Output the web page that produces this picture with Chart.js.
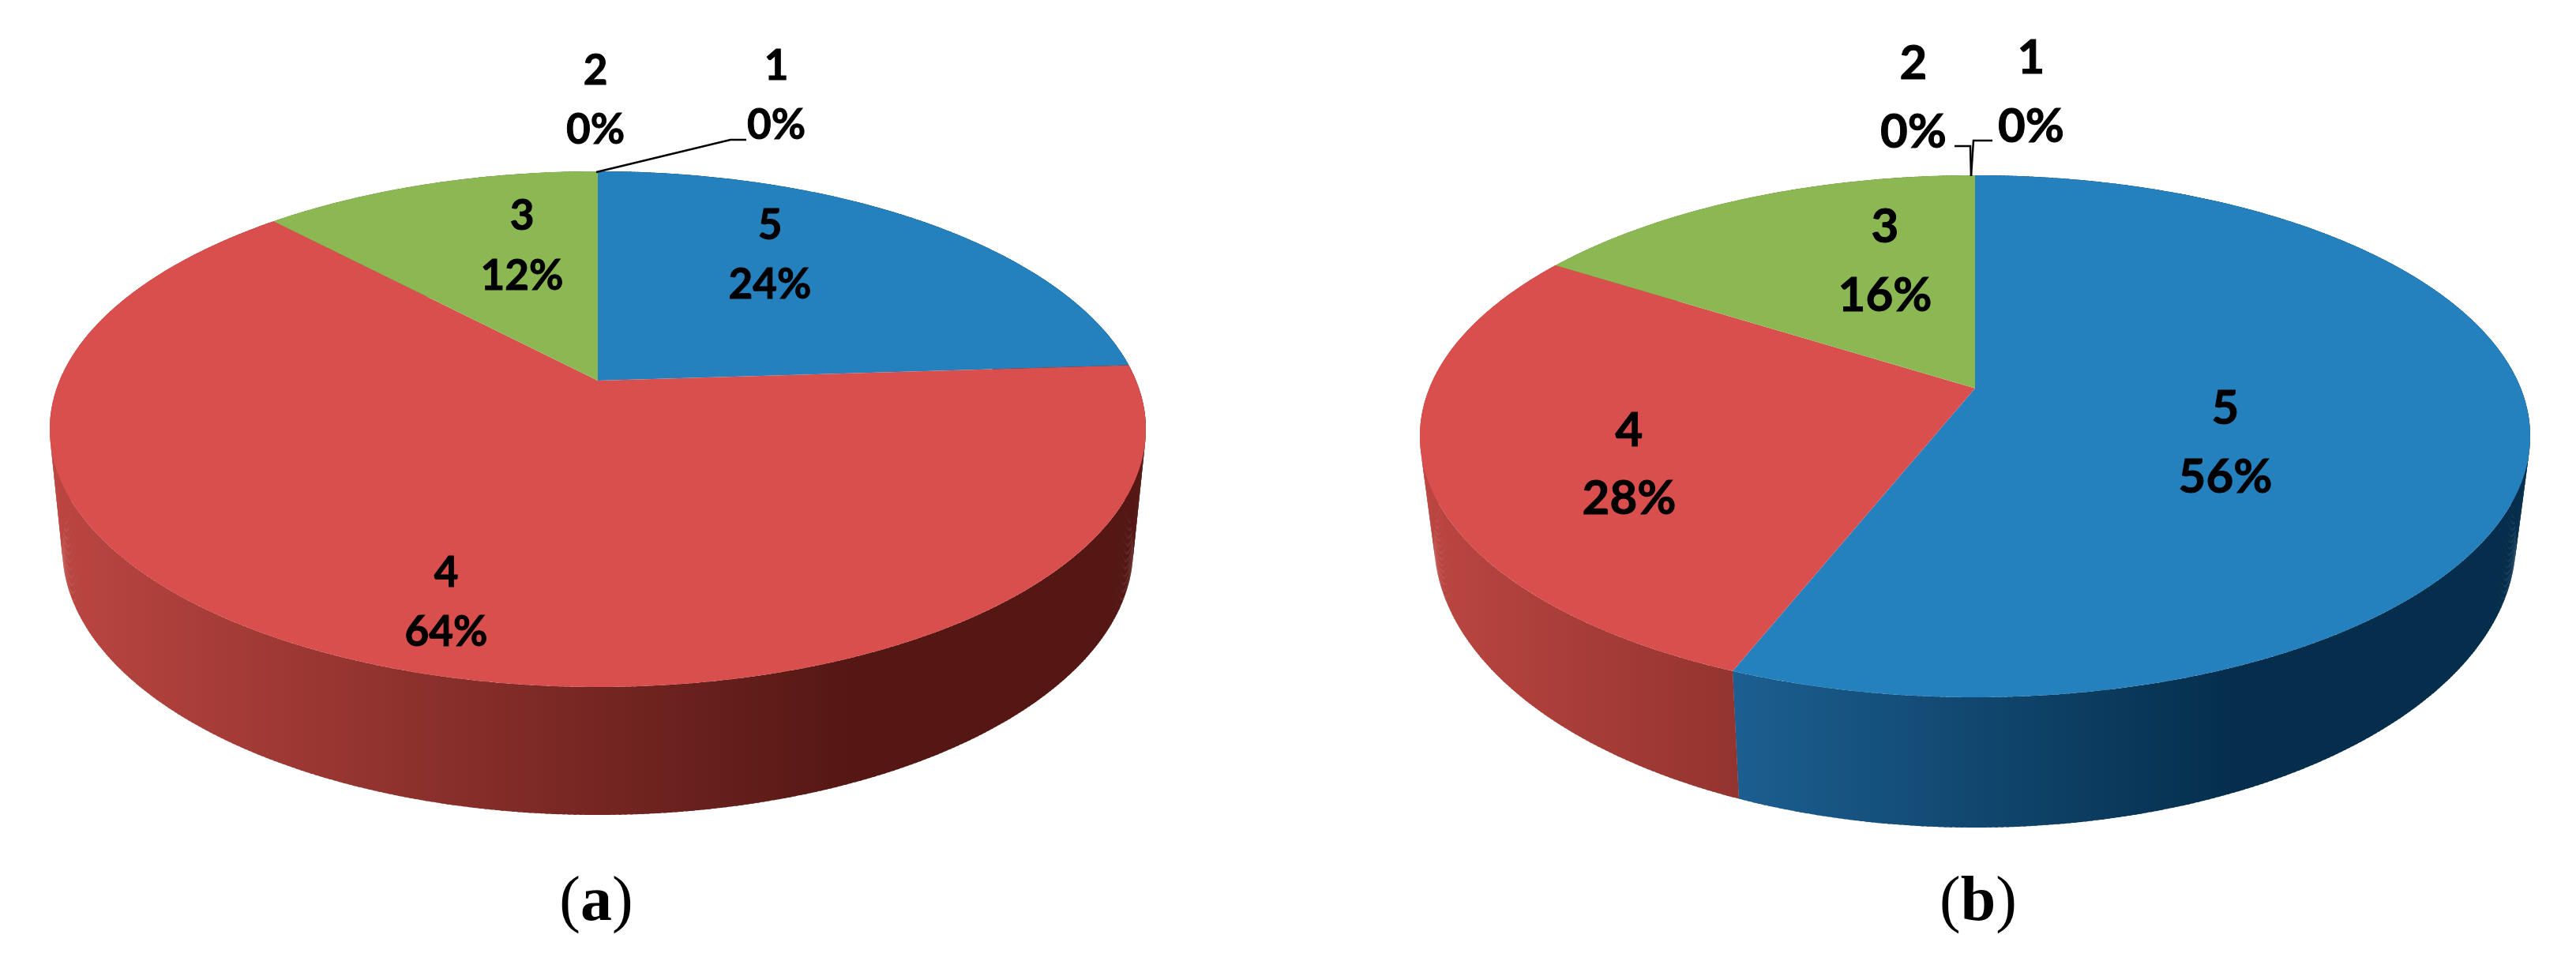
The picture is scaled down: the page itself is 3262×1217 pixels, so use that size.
<!DOCTYPE html>
<html>
<head>
<meta charset="utf-8">
<script src="https://cdn.jsdelivr.net/npm/chart.js@4"></script>
<style>
html,body{margin:0;padding:0;background:#fff;width:3262px;height:1217px;overflow:hidden}
canvas{position:absolute;top:0}
</style>
</head>
<body>
<canvas id="pieA" width="1631" height="1217" style="left:0"></canvas>
<canvas id="pieB" width="1631" height="1217" style="left:1631px"></canvas>
<script>
const categories = ['5', '4', '3', '2', '1'];
const valuesA = [24, 64, 12, 0, 0];
const valuesB = [56, 28, 16, 0, 0];
const topColors = ['#2580BE', '#D94F4E', '#8CB853', '#8064A2', '#4BACC6'];
const wallLight = ['#2A7DBB', '#BC4641', '#7EA64A', '#6F568D', '#4090A8'];
const wallDark = ['#052E4C', '#541714', '#3A4F20', '#30243F', '#1A4855'];

const sceneA = {
  offX: 0, cx: 757, rx: 694, cy: 543.5, ry: 326.5, t: -0.188,
  bRx: 678, bCy: 695, bRy: 337,
  labels: [
    {x: 975, y1: 303, y2: 378}, {x: 565, y1: 743, y2: 818}, {x: 661, y1: 291, y2: 367},
    {x: 754, y1: 107, y2: 182}, {x: 983, y1: 101, y2: 176}
  ],
  font: 53,
  leaders: [[[755, 218], [925, 177], [945, 177]]],
  caption: {letter: 'a', x: 755, y: 1165}
};
const sceneB = {
  offX: 1631, cx: 2501, rx: 703, cy: 552.5, ry: 330.5, t: -0.184,
  bRx: 685, bCy: 685, bRy: 363,
  labels: [
    {x: 2818, y1: 537, y2: 624}, {x: 2063, y1: 565, y2: 651}, {x: 2387, y1: 307, y2: 394},
    {x: 2423, y1: 100, y2: 187}, {x: 2572, y1: 93, y2: 180}
  ],
  font: 60,
  leaders: [[[2496, 223], [2499, 178], [2523, 178]], [[2496, 223], [2495, 185], [2475, 185]]],
  caption: {letter: 'b', x: 2505, y: 1165}
};

// Maps an arc angle from the chart onto a perspective-tilted disc.
function project(phi, s, cy, rx, ry, cx) {
  const u = Math.cos(phi), v = Math.sin(phi), d = 1 + s.t * v;
  return [cx + rx * u * Math.sqrt(1 - s.t * s.t) / d, cy + ry * (v + s.t) / d];
}

const pie3d = {
  id: 'pie3d',
  beforeDatasetsDraw(chart, args, s) {
    const ctx = chart.ctx, arcs = chart.getDatasetMeta(0).data;
    ctx.save();
    ctx.translate(-s.offX, 0);
    const step = Math.PI / 360;
    // side walls
    arcs.forEach((arc, i) => {
      if (arc.endAngle - arc.startAngle <= 0) return;
      const g = ctx.createLinearGradient(s.cx - s.rx, 0, s.cx + 0.47 * s.rx, 0);
      g.addColorStop(0, wallLight[i]);
      g.addColorStop(1, wallDark[i]);
      ctx.fillStyle = g;
      for (let a = arc.startAngle; a < arc.endAngle; a += step) {
        const b = Math.min(a + step * 1.5, arc.endAngle);
        const p1 = project(a, s, s.cy, s.rx, s.ry, s.cx), p2 = project(b, s, s.cy, s.rx, s.ry, s.cx);
        const q1 = project(a, s, s.bCy, s.bRx, s.bRy, s.cx), q2 = project(b, s, s.bCy, s.bRx, s.bRy, s.cx);
        ctx.beginPath();
        ctx.moveTo(p1[0], p1[1]); ctx.lineTo(p2[0], p2[1]);
        ctx.lineTo(q2[0], q2[1]); ctx.lineTo(q1[0], q1[1]);
        ctx.closePath(); ctx.fill();
      }
    });
    // top faces
    const apex = [s.cx, s.cy + s.ry * s.t];
    arcs.forEach((arc, i) => {
      if (arc.endAngle - arc.startAngle <= 0) return;
      ctx.fillStyle = topColors[i];
      ctx.beginPath();
      ctx.moveTo(apex[0], apex[1]);
      for (let a = arc.startAngle; ; a += step) {
        const p = project(Math.min(a, arc.endAngle), s, s.cy, s.rx, s.ry, s.cx);
        ctx.lineTo(p[0], p[1]);
        if (a >= arc.endAngle) break;
      }
      ctx.closePath(); ctx.fill();
    });
    // leader lines
    ctx.strokeStyle = '#000'; ctx.lineWidth = 2.5; ctx.lineJoin = 'miter';
    s.leaders.forEach(line => {
      ctx.beginPath();
      line.forEach((p, k) => k ? ctx.lineTo(p[0], p[1]) : ctx.moveTo(p[0], p[1]));
      ctx.stroke();
    });
    // data labels
    ctx.fillStyle = '#000'; ctx.textAlign = 'center'; ctx.textBaseline = 'alphabetic';
    ctx.font = 'bold ' + s.font + 'px Lato';
    ctx.lineWidth = 1;
    const vals = chart.data.datasets[0].data, names = chart.data.labels;
    s.labels.forEach((l, i) => {
      ctx.fillText(names[i], l.x, l.y1); ctx.strokeText(names[i], l.x, l.y1);
      ctx.fillText(vals[i] + '%', l.x, l.y2); ctx.strokeText(vals[i] + '%', l.x, l.y2);
    });
    // caption
    const c = s.caption, serif = '"Liberation Serif"', size = 80;
    ctx.textAlign = 'left';
    const regular = size + 'px ' + serif, bold = 'bold ' + size + 'px ' + serif;
    ctx.font = regular; const wo = ctx.measureText('(').width, wc = ctx.measureText(')').width;
    ctx.font = bold; const wl = ctx.measureText(c.letter).width;
    let x = c.x - (wo + wl + wc) / 2;
    ctx.font = regular; ctx.fillText('(', x, c.y); x += wo;
    ctx.font = bold; ctx.fillText(c.letter, x, c.y); x += wl;
    ctx.font = regular; ctx.fillText(')', x, c.y);
    ctx.restore();
    return false;
  }
};

function makeChart(id, values, scene) {
  return new Chart(document.getElementById(id), {
    type: 'pie',
    data: {labels: categories, datasets: [{data: values, backgroundColor: topColors, borderWidth: 0}]},
    options: {
      responsive: false, animation: false,
      events: [],
      plugins: {legend: {display: false}, tooltip: {enabled: false}, pie3d: scene}
    },
    plugins: [pie3d]
  });
}
makeChart('pieA', valuesA, sceneA);
makeChart('pieB', valuesB, sceneB);
</script>
</body>
</html>
